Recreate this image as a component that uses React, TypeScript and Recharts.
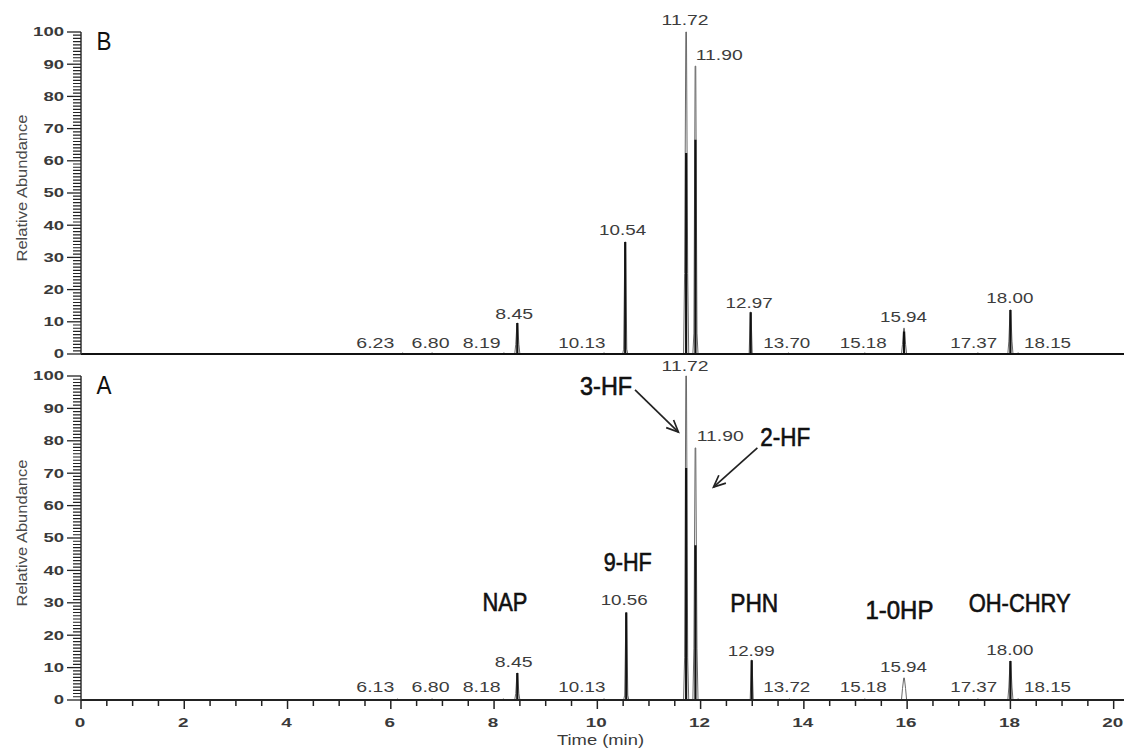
import React from 'react';
import { ComposedChart, Line, XAxis, YAxis, ReferenceDot, ReferenceLine } from 'recharts';

// ---------- data ----------
const X_MAX = 20.2;
const Y_AXIS_WIDTH = 81;
const xTicks = [0, 0.5, 1, 1.5, 2, 2.5, 3, 3.5, 4, 4.5, 5, 5.5, 6, 6.5, 7, 7.5, 8, 8.5, 9, 9.5, 10, 10.5, 11, 11.5, 12, 12.5, 13, 13.5, 14, 14.5, 15, 15.5, 16, 16.5, 17, 17.5, 18, 18.5, 19, 19.5, 20];
const yMajorTicks = [0, 10, 20, 30, 40, 50, 60, 70, 80, 90, 100];
const yMinorTicks = Array.from({ length: 101 }, (_, i) => i).filter((v) => v % 10 !== 0);

// Panel B (top)
const bTimes = [6.23, 6.8, 8.19, 8.45, 10.13, 10.54, 11.72, 11.9, 12.97, 13.7, 15.18, 15.94, 17.37, 18.0, 18.15];
const bApex = [0.3, 0.3, 0.3, 9.6, 0.3, 34.8, 100, 89.4, 13, 0.3, 0.3, 8, 0.3, 13.7, 0.3];
const bCore = [0, 0, 0, 9.6, 0, 34.8, 62.4, 66.5, 13, 0, 0, 7, 0, 13.7, 0];
const bShoulder = [0, 0, 0, 3, 0, 1.5, 25, 6.5, 0, 0, 0, 3, 0, 4, 0];
const bLabels = ['6.23', '6.80', '8.19', '8.45', '10.13', '10.54', '11.72', '11.90', '12.97', '13.70', '15.18', '15.94', '17.37', '18.00', '18.15'];
const bLabelX = [5.7, 6.77, 7.76, 8.39, 9.7, 10.49, 11.7, 12.36, 12.94, 13.67, 15.15, 15.93, 17.29, 17.99, 18.72];
const bLabelY = [3.4, 3.4, 3.4, 12.7, 3.4, 38.5, 103.7, 92.9, 16.1, 3.4, 3.4, 11.5, 3.4, 17.4, 3.4];

// Panel A (bottom)
const aTimes = [6.13, 6.8, 8.18, 8.45, 10.13, 10.56, 11.72, 11.9, 12.99, 13.72, 15.18, 15.94, 17.37, 18.0, 18.15];
const aApex = [0.3, 0.3, 0.3, 8.3, 0.3, 27, 100, 77.8, 12.3, 0.3, 0.3, 6.8, 0.3, 12, 0.3];
const aCore = [0, 0, 0, 8.3, 0, 27, 71.6, 47.8, 12.3, 0, 0, 0, 0, 12, 0];
const aShoulder = [0, 0, 0, 2, 0, 1.5, 13, 16, 0, 0, 0, 3.5, 0, 4, 0];
const aLabels = ['6.13', '6.80', '8.18', '8.45', '10.13', '10.56', '11.72', '11.90', '12.99', '13.72', '15.18', '15.94', '17.37', '18.00', '18.15'];
const aLabelX = [5.7, 6.77, 7.76, 8.38, 9.7, 10.52, 11.7, 12.38, 12.98, 13.67, 15.15, 15.93, 17.29, 17.99, 18.72];
const aLabelY = [4.0, 4.0, 4.0, 11.7, 4.0, 30.9, 103.1, 81.5, 15.4, 4.0, 4.0, 10.2, 4.0, 15.7, 4.0];

// Compound annotations (panel A)
const compoundNames = ['3-HF', '2-HF', '9-HF', 'NAP', 'PHN', '1-0HP', 'OH-CHRY'];
const compoundX = [10.17, 13.64, 10.59, 8.21, 13.04, 15.85, 18.18];
const compoundY = [96.9, 81.2, 42.6, 30.2, 29.9, 27.8, 29.9];
const compoundWidth = [52, 50, 48, 45, 48, 68, 102];

const arrowFrom = [{ x: 10.73, y: 95.7 }, { x: 13.1, y: 77.8 }];
const arrowTo = [{ x: 11.57, y: 82.7 }, { x: 12.25, y: 65.7 }];

// ---------- helpers ----------
function buildCore(times: number[], core: number[]) {
  const pts: { x: number; y: number }[] = [{ x: 0, y: 0 }];
  times.forEach((t, i) => {
    if (core[i] > 0) {
      pts.push({ x: t, y: 0 }, { x: t, y: core[i] }, { x: t, y: 0 });
    }
  });
  pts.push({ x: X_MAX, y: 0 });
  return pts;
}

function buildOutline(times: number[], apex: number[], shoulder: number[]) {
  const pts: { x: number; y: number }[] = [];
  times.forEach((t, i) => {
    pts.push(
      { x: t - 0.05, y: 0 },
      { x: t - 0.03, y: shoulder[i] },
      { x: t - 0.006, y: apex[i] },
      { x: t + 0.006, y: apex[i] },
      { x: t + 0.03, y: shoulder[i] },
      { x: t + 0.05, y: 0 }
    );
  });
  return pts;
}

const FONT = "Arial, 'Liberation Sans', sans-serif";

const YTick = (props: any) => {
  const { x, y, payload } = props;
  const v = payload.value as number;
  return (
    <g>
      <line x1={x - 14} x2={x} y1={y} y2={y} stroke="#222" strokeWidth={1.3} />
      <text
        x={x - 17}
        y={y}
        dy="0.36em"
        textAnchor="end"
        fontSize={12}
        fontWeight="bold"
        fill="#3a3a3a"
        fontFamily={FONT}
        textLength={String(v).length * 10.3}
        lengthAdjust="spacingAndGlyphs"
      >
        {v}
      </text>
    </g>
  );
};

const XTick = (props: any) => {
  const { x, y, payload } = props;
  const v = payload.value as number;
  const major = v % 2 === 0;
  return (
    <g>
      <line x1={x} x2={x} y1={y} y2={y + (major ? 9 : 6)} stroke="#222" strokeWidth={1.5} />
      {major && (
        <text
          x={x - 1}
          y={y + 27}
          textAnchor="middle"
          fontSize={12.5}
          fontWeight="bold"
          fill="#3a3a3a"
          fontFamily={FONT}
          textLength={String(v).length * 10.5}
          lengthAdjust="spacingAndGlyphs"
        >
          {v}
        </text>
      )}
    </g>
  );
};

// Y-axis title plus the dense minor-tick ladder (one tick per 1 %)
const YAxisDecor = (props: any) => {
  const vb = props.viewBox || {};
  const top = vb.y || 0;
  const h = vb.height || 0;
  const axisX = Y_AXIS_WIDTH;
  const cx = 22;
  const cy = top + h / 2 - 5;
  const d = yMinorTicks
    .map((v) => {
      const yy = top + h * (1 - v / 100);
      return `M${axisX - 8},${yy.toFixed(2)}H${axisX}`;
    })
    .join('');
  return (
    <g>
      <path d={d} stroke="#222" strokeWidth={1.2} fill="none" />
      <text
        x={cx}
        y={cy}
        transform={`rotate(-90, ${cx}, ${cy})`}
        textAnchor="middle"
        dy="0.36em"
        fontSize={14}
        fill="#4a4a4a"
        fontFamily={FONT}
        textLength={147}
        lengthAdjust="spacingAndGlyphs"
      >
        Relative Abundance
      </text>
    </g>
  );
};

const XLabel = (props: any) => {
  const vb = props.viewBox || {};
  const cx = (vb.x || 0) + (vb.width || 0) / 2 - 2;
  const cy = (vb.y || 0) + 45;
  return (
    <text x={cx} y={cy} textAnchor="middle" fontSize={14.5} fill="#3a3a3a" fontFamily={FONT} textLength={87} lengthAdjust="spacingAndGlyphs">
      Time (min)
    </text>
  );
};

const peakLabelWidth = (s: string) => s.replace('.', '').length * 9 + 11;

const makeTextShape = (
  txt: string,
  opts: { size: number; width: number; fill: string; anchor?: string; weight?: string; dy?: string; stroke?: number }
) =>
  (p: any) => (
    <text
      x={p.cx}
      y={p.cy}
      dy={opts.dy ?? '0.36em'}
      textAnchor={opts.anchor || 'middle'}
      fontSize={opts.size}
      fontWeight={opts.weight || 'normal'}
      fill={opts.fill}
      stroke={opts.stroke ? opts.fill : undefined}
      strokeWidth={opts.stroke || undefined}
      fontFamily={FONT}
      textLength={opts.width}
      lengthAdjust="spacingAndGlyphs"
    >
      {txt}
    </text>
  );

const Arrow = (props: any) => {
  const { x1, y1, x2, y2 } = props;
  if ([x1, y1, x2, y2].some((v) => v === undefined || isNaN(v))) return null;
  const ang = Math.atan2(y2 - y1, x2 - x1);
  const L = 13;
  const a = 0.42;
  const p1x = x2 - L * Math.cos(ang - a);
  const p1y = y2 - L * Math.sin(ang - a);
  const p2x = x2 - L * Math.cos(ang + a);
  const p2y = y2 - L * Math.sin(ang + a);
  return (
    <g>
      <line x1={x1} y1={y1} x2={x2} y2={y2} stroke="#222" strokeWidth={1.7} />
      <polyline points={`${p1x},${p1y} ${x2},${y2} ${p2x},${p2y}`} fill="none" stroke="#222" strokeWidth={1.7} />
    </g>
  );
};

function Panel(props: {
  height: number;
  margin: any;
  showX: boolean;
  times: number[];
  apex: number[];
  core: number[];
  shoulder: number[];
  labels: string[];
  labelX: number[];
  labelY: number[];
  letter: string;
  annotate: boolean;
}) {
  const outline = buildOutline(props.times, props.apex, props.shoulder);
  const coreTrace = buildCore(props.times, props.core);
  return (
    <ComposedChart width={1124} height={props.height} margin={props.margin}>
      <XAxis
        dataKey="x"
        type="number"
        domain={[0, X_MAX]}
        ticks={xTicks}
        interval={0}
        hide={!props.showX}
        height={49}
        tickSize={0}
        tickMargin={0}
        tickLine={false}
        tick={<XTick />}
        axisLine={{ stroke: '#222', strokeWidth: 2 }}
        label={props.showX ? { content: <XLabel /> } : undefined}
      />
      <YAxis
        dataKey="y"
        type="number"
        domain={[0, 100]}
        ticks={yMajorTicks}
        interval={0}
        width={Y_AXIS_WIDTH}
        tickSize={0}
        tickMargin={0}
        tickLine={false}
        tick={<YTick />}
        axisLine={{ stroke: '#333', strokeWidth: 1.5 }}
        label={{ content: <YAxisDecor /> }}
      />
      <Line data={outline} dataKey="y" type="linear" dot={false} stroke="#6a6a6a" strokeWidth={1} isAnimationActive={false} />
      <Line data={coreTrace} dataKey="y" type="linear" dot={false} stroke="#111" strokeWidth={2.2} isAnimationActive={false} />
      {props.labels.map((s, i) => (
        <ReferenceDot
          key={'lbl' + i}
          x={props.labelX[i]}
          y={props.labelY[i]}
          r={0}
          ifOverflow="visible"
          shape={makeTextShape(s, { size: 15, width: peakLabelWidth(s), fill: '#3c3c3c' })}
        />
      ))}
      <ReferenceDot
        x={0.3}
        y={94.3}
        r={0}
        ifOverflow="visible"
        shape={makeTextShape(props.letter, { size: 25, width: 15, fill: '#111', anchor: 'start', dy: '0' })}
      />
      {props.annotate &&
        compoundNames.map((s, i) => (
          <ReferenceDot
            key={'cmp' + i}
            x={compoundX[i]}
            y={compoundY[i]}
            r={0}
            ifOverflow="visible"
            shape={makeTextShape(s, { size: 25, width: compoundWidth[i], fill: '#111', stroke: 0.6 })}
          />
        ))}
      {props.annotate &&
        arrowFrom.map((f, i) => (
          <ReferenceLine key={'arr' + i} segment={[f, arrowTo[i]]} ifOverflow="visible" shape={<Arrow />} />
        ))}
    </ComposedChart>
  );
}

export default function App() {
  return (
    <div style={{ position: 'relative', width: 1124, height: 749, fontFamily: FONT, background: '#fff' }}>
      <style>{'body{margin:0;background:#fff}'}</style>
      <div style={{ position: 'absolute', left: 0, top: 356 }}>
        <Panel
          height={393}
          margin={{ top: 20, right: 0, bottom: 0, left: 0 }}
          showX={true}
          times={aTimes}
          apex={aApex}
          core={aCore}
          shoulder={aShoulder}
          labels={aLabels}
          labelX={aLabelX}
          labelY={aLabelY}
          letter="A"
          annotate={true}
        />
      </div>
      <div style={{ position: 'absolute', left: 0, top: 0 }}>
        <Panel
          height={366}
          margin={{ top: 32, right: 0, bottom: 12, left: 0 }}
          showX={false}
          times={bTimes}
          apex={bApex}
          core={bCore}
          shoulder={bShoulder}
          labels={bLabels}
          labelX={bLabelX}
          labelY={bLabelY}
          letter="B"
          annotate={false}
        />
      </div>
    </div>
  );
}
